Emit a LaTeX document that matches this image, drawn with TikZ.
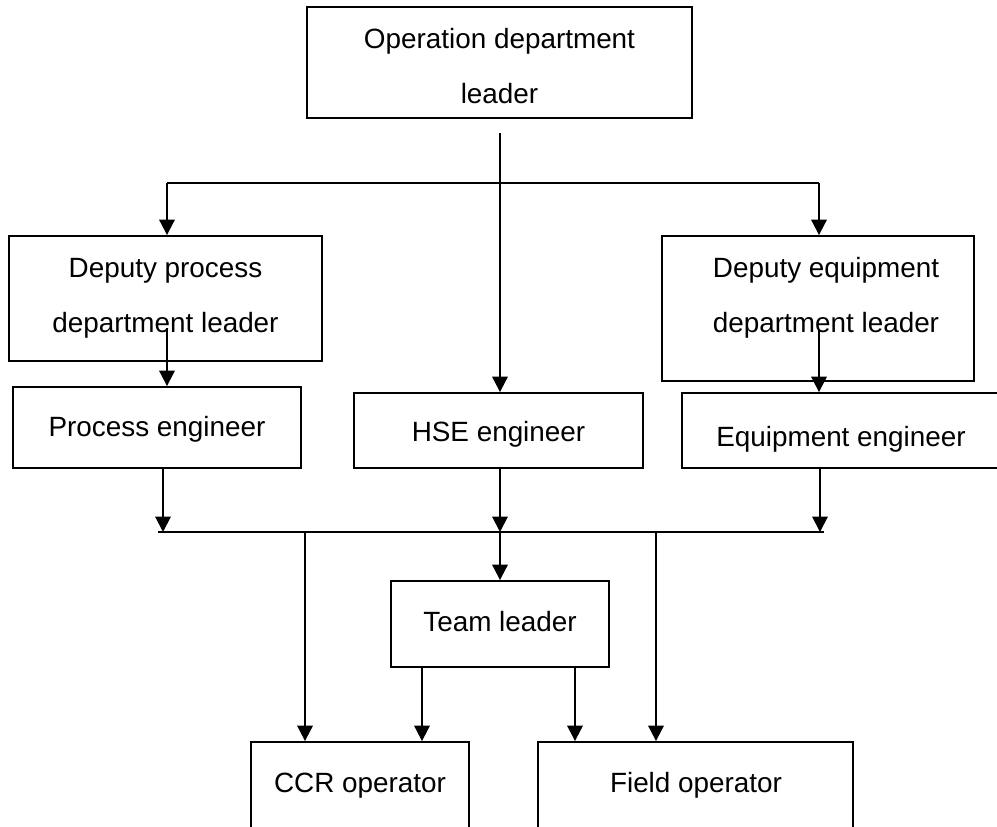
\documentclass[tikz,border=0pt]{standalone}
\usepackage{fontspec}
\setmainfont{Liberation Sans}
\usetikzlibrary{arrows.meta}
\begin{document}
\begin{tikzpicture}[x=0.75pt,y=-0.75pt,
  box/.style={draw, line width=1.4pt, inner sep=0pt, rectangle},
  lbl/.style={anchor=base, inner sep=0pt, align=center, font=\fontsize{20.9pt}{41.25pt}\selectfont},
  ln/.style={line width=1.5pt},
  arr/.style={line width=1.5pt, -{Triangle[length=11.5pt,width=11.5pt]}}]
\useasboundingbox (0,0) rectangle (997,827);
\clip (0,0) rectangle (997,827);

% boxes
\node[box, minimum width=288.75pt, minimum height=83.25pt] (op) at (499.5,62.5) {};
\node[box, minimum width=234.75pt, minimum height=93.75pt] (dp) at (165.5,298.5) {};
\node[box, minimum width=216pt, minimum height=60.75pt] (pe) at (157,427.5) {};
\node[box, minimum width=216.75pt, minimum height=56.25pt] (hse) at (498.5,430.5) {};
\node[box, minimum width=234pt, minimum height=108.75pt] (de) at (818,308.5) {};
\node[box, minimum width=247.5pt, minimum height=56.25pt] (ee) at (847,430.5) {};
\node[box, minimum width=163.5pt, minimum height=64.5pt] (tl) at (500,624) {};
\node[box, minimum width=163.5pt, minimum height=96pt] (ccr) at (360,806) {};
\node[box, minimum width=236.25pt, minimum height=96pt] (fo) at (695.5,806) {};

% texts (base anchor = baseline of last line)
\node[lbl] (opT) at (499.5,104) {Operation department\\leader};
\node[lbl] (dpT) at (165.5,333) {Deputy process\\department leader};
\node[lbl] (peT) at (157,437) {Process engineer};
\node[lbl] (hseT) at (498.5,442) {HSE engineer};
\node[lbl] (deT) at (826,333) {Deputy equipment\\department leader};
\node[lbl] (eeT) at (841,446) {Equipment engineer};
\node[lbl] (tlT) at (500,631) {Team leader};
\node[lbl] (ccrT) at (360,792) {CCR operator};
\node[lbl] (foT) at (696,792) {Field operator};

% coordinates
\coordinate (opS) at (500,133);
\coordinate (b1L) at (167,183);
\coordinate (b1R) at (819,183);
\coordinate (dpI) at (167,328);
\coordinate (deI) at (819,330);
\coordinate (b2L) at (158,532);
\coordinate (b2R) at (824,532);
\coordinate (b2a) at (163,532);
\coordinate (b2m) at (500,532);
\coordinate (b2r) at (820,532);
\coordinate (b2c) at (305,532);
\coordinate (b2f) at (656,532);
\coordinate (t1) at (422,700);
\coordinate (t2) at (575,700);

% connectors
\draw[arr] (opS) -- (opS |- hse.north);
\draw[ln] (b1L) -- (b1R);
\draw[arr] (b1L) -- (b1L |- dp.north);
\draw[arr] (b1R) -- (b1R |- de.north);
\draw[arr] (dpI) -- (dpI |- pe.north);
\draw[arr] (deI) -- (deI |- ee.north);
\draw[arr] (pe.south -| b2a) -- (b2a);
\draw[arr] (hse.south -| b2m) -- (b2m);
\draw[arr] (ee.south -| b2r) -- (b2r);
\draw[ln] (b2L) -- (b2R);
\draw[arr] (b2c) -- (b2c |- ccr.north);
\draw[arr] (b2m) -- (b2m |- tl.north);
\draw[arr] (b2f) -- (b2f |- fo.north);
\draw[arr] (tl.south -| t1) -- (t1 |- ccr.north);
\draw[arr] (tl.south -| t2) -- (t2 |- fo.north);
\end{tikzpicture}
\end{document}
